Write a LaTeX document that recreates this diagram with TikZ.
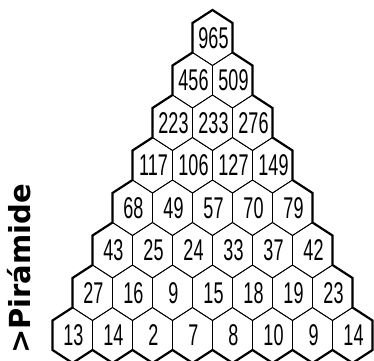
\documentclass[tikz,border=0pt]{standalone}
\usepackage{fontspec}
\setmainfont{Liberation Sans}
\newfontfamily\labelfont{DejaVu Sans}
\newcommand{\cnum}[1]{\scalebox{0.6}[1]{#1}}
\begin{document}
\begin{tikzpicture}[x=1pt,y=-1pt,
  hexline/.style={line width=0.8pt, line join=miter},
  outline/.style={line width=2.2pt, line join=miter},
  numlabel/.style={font=\fontsize{30}{30}\selectfont, inner sep=0pt},
  titlelabel/.style={font=\labelfont\bfseries\fontsize{29}{29}\selectfont, inner sep=0pt, rotate=90, anchor=base}]
\useasboundingbox (0,0) rectangle (374,360);
\clip (0,0) rectangle (374,360);
% thin hexagons
\foreach \r in {0,...,7}{
  \foreach \i in {0,...,\r}{
    \pgfmathsetmacro\cx{212.5+(\i-\r/2)*40}
    \pgfmathsetmacro\cy{37.75+42.5*\r}
    \draw[hexline] (\cx,\cy-27.75) -- (\cx+20,\cy-14.75) -- (\cx+20,\cy+14.75)
      -- (\cx,\cy+27.75) -- (\cx-20,\cy+14.75) -- (\cx-20,\cy-14.75) -- cycle;
  }
}
% thick outline
\draw[outline] (52.5,350)
  \foreach \r in {7,6,...,0}{
    -- ({192.5-20*\r},{52.5+42.5*\r}) -- ({192.5-20*\r},{23+42.5*\r}) -- ({212.5-20*\r},{10+42.5*\r})
  }
  \foreach \r in {0,...,7}{
    -- ({232.5+20*\r},{23+42.5*\r}) -- ({232.5+20*\r},{52.5+42.5*\r})
  }
  \foreach \i in {7,6,...,0}{
    -- ({72.5+40*\i},363) -- ({52.5+40*\i},350)
  }
  -- cycle;
% numbers
\foreach \row [count=\r from 0] in {{965},{456,509},{223,233,276},{117,106,127,149},{68,49,57,70,79},{43,25,24,33,37,42},{27,16,9,15,18,19,23},{13,14,2,7,8,10,9,14}}{
  \foreach \v [count=\i from 0] in \row {
    \node[numlabel] (n-\r-\i) at ({212.5+(\i-\r/2)*40+1},{38+42.5*\r}) {\cnum{\v}};
  }
}
\node[titlelabel] (title) at (30,269) {>Pirámide};
\end{tikzpicture}
\end{document}
